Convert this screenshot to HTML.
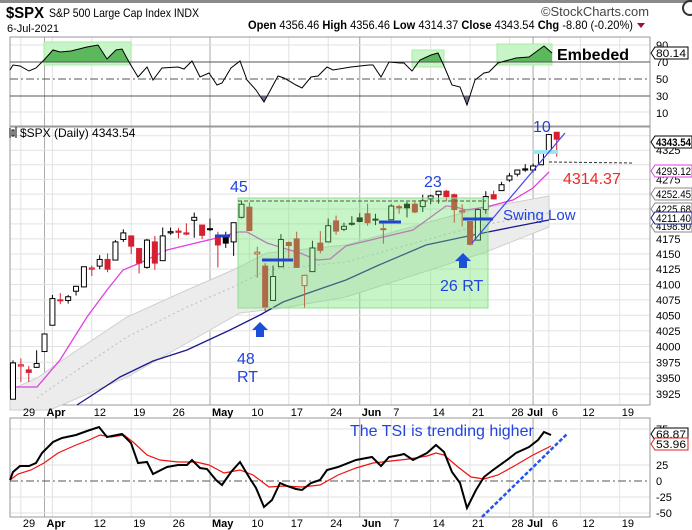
<!DOCTYPE html>
<html><head><meta charset="utf-8"><style>
html,body{margin:0;padding:0;background:#fff;}
svg{display:block;font-family:"Liberation Sans",sans-serif;}
</style></head><body>
<svg id="s" width="692" height="530" viewBox="0 0 692 530" xmlns="http://www.w3.org/2000/svg">
<rect x="0" y="0" width="692" height="530" fill="#fff"/>
<rect x="0" y="0" width="692" height="3" fill="#8a8a8a"/>
<circle cx="690" cy="8" r="7" fill="#fff" stroke="#333" stroke-width="2"/>
<g id="grid"></g>
<g id="rsi"></g>
<g id="main"></g>
<g id="tsi"></g>
<text x="6" y="18" font-size="16" font-weight="bold" textLength="38" lengthAdjust="spacingAndGlyphs">$SPX</text>
<text x="49" y="17" font-size="12" textLength="150" lengthAdjust="spacingAndGlyphs">S&amp;P 500 Large Cap Index  INDX</text>
<text x="7" y="32" font-size="11">6-Jul-2021</text>
<text x="541" y="16" font-size="13" fill="#444" textLength="108" lengthAdjust="spacingAndGlyphs">©StockCharts.com</text>
<text x="248" y="29" font-size="12" textLength="385" lengthAdjust="spacingAndGlyphs"><tspan font-weight="bold">Open</tspan> 4356.46 <tspan font-weight="bold">High</tspan> 4356.46 <tspan font-weight="bold">Low</tspan> 4314.37 <tspan font-weight="bold">Close</tspan> 4343.54 <tspan font-weight="bold">Chg</tspan> -8.80 (-0.20%)</text>
<path d="M637 23 L645 23 L641 28 Z" fill="#a01030"/>
<text x="557" y="60" font-size="16" font-weight="bold">Embeded</text>
<g font-size="11" fill="#000">
<text x="656" y="49">90</text><text x="656" y="66">70</text><text x="656" y="83">50</text><text x="656" y="100">30</text><text x="656" y="117">10</text>
</g>
<path d="M651 53 L655 47 L688 47 L688 59 L655 59 Z" fill="#fff" stroke="#000"/>
<text x="656" y="57" font-size="11" textLength="30" lengthAdjust="spacingAndGlyphs">80.14</text>
<text x="20" y="137" font-size="12">$SPX (Daily) 4343.54</text>
<path d="M10 128 v10 M12 130 h2 v6 h-2z M16 127 v11" stroke="#000" fill="none"/>
<g font-size="11" fill="#000" id="plabels"></g>
<g font-size="11">
<path d="M651 142 L655 136 L692 136 L692 148 L655 148 Z" fill="#fff" stroke="#000"/>
<text x="656" y="146" font-weight="bold" textLength="35" lengthAdjust="spacingAndGlyphs">4343.54</text>
<path d="M651 171 L655 165 L692 165 L692 177 L655 177 Z" fill="#fff" stroke="#e040e0"/>
<text x="656" y="175" textLength="35" lengthAdjust="spacingAndGlyphs">4293.12</text>
<path d="M651 194 L655 188 L692 188 L692 200 L655 200 Z" fill="#fff" stroke="#888"/>
<text x="656" y="198" textLength="35" lengthAdjust="spacingAndGlyphs">4252.45</text>
<path d="M651 226 L655 220 L692 220 L692 232 L655 232 Z" fill="#fff" stroke="#888"/>
<text x="656" y="230" textLength="35" lengthAdjust="spacingAndGlyphs">4198.90</text>
<path d="M651 209 L655 203 L692 203 L692 215 L655 215 Z" fill="#fff" stroke="#888"/>
<text x="656" y="213" textLength="35" lengthAdjust="spacingAndGlyphs">4225.68</text>
<path d="M651 218 L655 212 L692 212 L692 224 L655 224 Z" fill="#fff" stroke="#1a1a8a"/>
<text x="656" y="222" textLength="35" lengthAdjust="spacingAndGlyphs">4211.40</text>
</g>
<g fill="#2244dd" font-size="16">
<text x="230" y="192">45</text>
<text x="237" y="364">48</text>
<text x="237" y="382">RT</text>
<text x="424" y="187">23</text>
<text x="440" y="291">26 RT</text>
<text x="533" y="132">10</text>
<text x="503" y="220" font-size="15">Swing Low</text>
<text x="350" y="436">The TSI is trending higher</text>
</g>
<text x="563" y="184" font-size="16" fill="#ee2a2a">4314.37</text>
<g font-size="11" id="dlabels"></g>
<g font-size="11">
<text x="656" y="433">75</text>
<path d="M651 434 L655 428 L688 428 L688 440 L655 440 Z" fill="#fff" stroke="#000"/>
<text x="656" y="438" textLength="30" lengthAdjust="spacingAndGlyphs">68.87</text>
<path d="M651 444 L655 438 L688 438 L688 450 L655 450 Z" fill="#fff" stroke="#e02020"/>
<text x="656" y="448" textLength="30" lengthAdjust="spacingAndGlyphs">53.96</text>
<text x="656" y="469">25</text><text x="656" y="485">0</text><text x="656" y="501">-25</text><text x="656" y="517">-50</text>
</g>
</svg>
<script>
const NS="http://www.w3.org/2000/svg";
function el(p,t,a){const e=document.createElementNS(NS,t);for(const k in a)e.setAttribute(k,a[k]);document.getElementById(p).appendChild(e);return e;}
const X0=13,DX=7.88,L=10,R=650;
const yP=p=>254-2513*Math.log(p/4150);
const weeks=[1,5,10,15,20,25,30,35,40,44,48,53,58,63,66,68,72,77];
const months=[4,25,44,66];
const panels=[[37,126],[127,405],[418,517]];
panels.forEach(([t,b])=>{
 weeks.forEach(i=>{const x=X0+DX*i;el('grid','line',{x1:x,x2:x,y1:t,y2:b,stroke:'#e2e2e2','stroke-width':1});});
});
months.forEach(i=>{const x=X0+DX*i;panels.forEach(([t,b])=>el('grid','line',{x1:x,x2:x,y1:t,y2:b,stroke:'#aaa'}));});
for(let p=3925;p<=4350;p+=25){const y=yP(p);el('grid','line',{x1:L,x2:R,y1:y,y2:y,stroke:'#e2e2e2'});
 if(p<=4325&&(p<4200||p==4275||p==4325)){const t=el('plabels','text',{x:656,y:y+4});t.textContent=p;}}
[[45,'#e2e2e2'],[112,'#e2e2e2']].forEach(([y,c])=>el('grid','line',{x1:L,x2:R,y1:y,y2:y,stroke:c}));
[429,465,497,513].forEach(y=>el('grid','line',{x1:L,x2:R,y1:y,y2:y,stroke:'#e2e2e2'}));
panels.forEach(([t,b])=>el('grid','rect',{x:L,y:t,width:R-L,height:b-t,fill:'none',stroke:'#999'}));
const dl=[['29',1],['Apr',4,1],['12',10],['19',15],['26',20],['May',25,1],['10',30],['17',35],['24',40],['Jun',44,1],['7',48],['14',53],['21',58],['28',63],['Jul',66,1],['6',68],['12',72],['19',77]];
[416,527].forEach(y=>dl.forEach(([s,i,b])=>{let x=X0+DX*i+2;if(s=='Jul')x-=8;if(s=='6')x+=1;const t=el('dlabels','text',{x:x,y:y,'font-weight':b?'bold':'normal'});t.textContent=s;}));
const rsi=[[10,70],[13,65],[20,66],[29,71],[36,68],[44,60],[53,50],[60,52],[71,51],[87,47],[98,45],[107,59],[116,50],[122,49],[129,62],[138,77],[147,67],[153,80],[162,68],[178,67],[184,69],[192,61],[200,77],[209,73],[217,85],[222,83],[231,68],[240,61],[247,80],[256,90],[264,102],[278,76],[284,78],[296,85],[302,88],[311,77],[318,76],[327,67],[333,70],[351,67],[360,66],[369,65],[373,65],[381,77],[389,62],[400,63],[404,63],[412,71],[420,60],[431,55],[438,53],[444,66],[452,85],[460,87],[467,105],[475,80],[484,73],[489,72],[498,63],[516,58],[529,57],[544,46],[552,53]];
const rp=rsi.map(p=>p.join(',')).join(' ');
[[44,42,87,23],[412,50,32,17],[497,44,55,21]].forEach(([x,y,w,h])=>el('rsi','rect',{x,y,width:w,height:h,fill:'#c8f5c8',stroke:'#a8eaa8'}));
const cp=el('rsi','clipPath',{id:'ca'});const cr=document.createElementNS(NS,'rect');cr.setAttribute('x',0);cr.setAttribute('y',0);cr.setAttribute('width',692);cr.setAttribute('height',62);cp.appendChild(cr);
const cp2=el('rsi','clipPath',{id:'cb'});const cr2=document.createElementNS(NS,'rect');cr2.setAttribute('x',0);cr2.setAttribute('y',96);cr2.setAttribute('width',692);cr2.setAttribute('height',40);cp2.appendChild(cr2);
el('rsi','polygon',{points:'10,62 '+rp+' 552,62',fill:'#5cb85c','clip-path':'url(#ca)'});
el('rsi','polygon',{points:'10,96 '+rp+' 552,96',fill:'#7a6a9a','clip-path':'url(#cb)'});
el('rsi','line',{x1:L,x2:R,y1:62,y2:62,stroke:'#555'});
el('rsi','line',{x1:L,x2:R,y1:96,y2:96,stroke:'#555'});
el('rsi','line',{x1:L,x2:R,y1:79,y2:79,stroke:'#555','stroke-dasharray':'8,3,2,3'});
el('rsi','polyline',{points:rp,fill:'none',stroke:'#000','stroke-width':1});
const up=[[37,378],[67,357],[127,317],[187,290],[233,270],[267,253],[346,245],[473,210],[549,196]];
const lo=[[50,410],[127,377],[187,343],[240,313],[283,308],[346,297],[486,252],[549,227]];
el('main','polygon',{points:up.concat([[549,227]]).concat(lo.slice().reverse()).concat([[10,410],[10,390]]).map(p=>p.join(',')).join(' '),fill:'#ececec',stroke:'#cfcfcf'});
const mid=up.map((p,i)=>[p[0],p[1]+ (i<3?20:17)]);
el('main','polyline',{points:mid.map(p=>p.join(',')).join(' '),fill:'none',stroke:'#bbb','stroke-dasharray':'2,3'});
const pink=[[11,387],[37,387],[60,360],[87,317],[107,290],[123,270],[140,263],[167,250],[200,242],[217,238],[238,232],[247,232],[267,243],[283,248],[300,253],[317,260],[330,259],[346,246],[379,238],[413,230],[446,206],[456,207],[466,210],[486,207],[513,200],[533,188],[549,172]];
const navy=[[77,405],[120,377],[153,361],[187,350],[230,330],[260,315],[283,302],[317,290],[346,280],[379,265],[426,245],[473,235],[513,227],[549,220]];
el('main','polyline',{points:pink.map(p=>p.join(',')).join(' '),fill:'none',stroke:'#e040e0','stroke-width':1.3});
el('main','polyline',{points:navy.map(p=>p.join(',')).join(' '),fill:'none',stroke:'#1a1a8a','stroke-width':1.3});
const d=[[3917,3978,3917,3974],[3969,3981,3944,3971],[3963,3969,3944,3959],[3967,3994,3966,3973],[3992,4018,3992,4020],[4034,4083,4034,4077],[4075,4086,4068,4074],[4074,4083,4069,4080],[4089,4098,4082,4097],[4096,4129,4095,4129],[4125,4131,4114,4127],[4130,4148,4125,4141],[4141,4151,4120,4125],[4140,4173,4140,4170],[4174,4191,4170,4185],[4180,4180,4150,4163],[4159,4160,4118,4135],[4128,4175,4126,4173],[4170,4180,4124,4135],[4139,4194,4139,4180],[4185,4194,4182,4187],[4188,4193,4176,4186],[4185,4201,4181,4183],[4206,4219,4177,4211],[4198,4198,4175,4181],[4191,4209,4188,4192],[4180,4187,4128,4165],[4177,4187,4160,4168],[4170,4202,4147,4202],[4211,4238,4209,4233],[4228,4236,4188,4189],[4150,4162,4111,4153],[4130,4135,4057,4063],[4074,4131,4074,4113],[4129,4183,4129,4174],[4169,4171,4143,4164],[4175,4187,4127,4128],[4098,4116,4061,4115],[4121,4172,4121,4160],[4168,4188,4151,4156],[4170,4209,4170,4197],[4205,4214,4182,4188],[4191,4202,4188,4196],[4201,4213,4197,4200],[4210,4218,4203,4204],[4217,4234,4197,4202],[4207,4217,4198,4208],[4191,4204,4167,4192],[4207,4233,4207,4230],[4229,4232,4217,4227],[4233,4237,4211,4227],[4233,4237,4218,4220],[4229,4249,4220,4239],[4242,4249,4233,4247],[4249,4255,4234,4255],[4255,4257,4238,4246],[4249,4251,4202,4224],[4220,4233,4196,4222],[4204,4204,4164,4166],[4173,4226,4173,4224],[4224,4255,4217,4246],[4249,4256,4241,4242],[4256,4271,4256,4266],[4274,4286,4271,4281],[4284,4292,4280,4291],[4293,4301,4288,4291],[4291,4302,4287,4298],[4300,4320,4300,4320],[4322,4353,4322,4352],[4356,4356,4314,4344]];
d.forEach((c,i)=>{const [o,h,l,cl]=c;const x=X0+DX*i;const pc=i?d[i-1][3]:3909;const col=cl<pc?'#d42030':'#000';
 el('main','line',{x1:x,x2:x,y1:yP(h),y2:yP(l),stroke:col});
 const t=Math.min(yP(o),yP(cl)),b=Math.max(yP(o),yP(cl));
 el('main','rect',{x:x-2.5,y:t,width:5,height:Math.max(1,b-t),fill:cl<o?col:'#fff',stroke:col});});
el('main','rect',{x:238,y:198,width:250,height:110,fill:'rgba(110,230,110,0.38)',stroke:'#8ee08e'});
el('main','line',{x1:238,x2:486,y1:201,y2:201,stroke:'#555','stroke-dasharray':'4,2'});
el('main','rect',{x:533,y:150,width:25,height:4,fill:'#9ee6ee'});
el('main','line',{x1:472,y1:243,x2:565,y2:133,stroke:'#4444ee','stroke-width':1.2});
el('main','line',{x1:549,y1:162,x2:634,y2:163,stroke:'#333','stroke-dasharray':'3,2'});
[[215,230,236],[262,293,260],[463,493,219],[379,401,222]].forEach(([a,b,y])=>el('main','line',{x1:a,x2:b,y1:y,y2:y,stroke:'#2244cc','stroke-width':3}));
[[260,322],[463,253]].forEach(([x,y])=>el('main','path',{d:`M${x} ${y} L${x+8} ${y+8} L${x+4} ${y+8} L${x+4} ${y+15} L${x-4} ${y+15} L${x-4} ${y+8} L${x-8} ${y+8} Z`,fill:'#1a50d8'}));
el('tsi','line',{x1:L,x2:R,y1:481,y2:481,stroke:'#555','stroke-dasharray':'8,3,2,3'});
const red=[[10,480],[18,474],[31,470],[44,463],[58,453],[76,445],[89,440],[100,435],[111,437],[124,435],[133,442],[147,455],[160,460],[178,462],[196,462],[209,465],[224,473],[240,470],[253,475],[269,487],[284,486],[302,487],[320,485],[338,475],[356,468],[373,463],[391,461],[409,459],[427,456],[436,453],[444,455],[458,467],[471,477],[484,479],[498,475],[516,465],[533,455],[551,446]];
const blk=[[10,480],[13,472],[20,466],[29,466],[36,463],[42,453],[53,442],[62,438],[76,435],[87,431],[99,427],[107,437],[122,434],[131,443],[138,463],[147,462],[153,474],[167,467],[178,465],[187,465],[192,460],[200,468],[207,469],[216,480],[222,485],[231,472],[240,462],[249,477],[256,488],[264,507],[272,500],[280,483],[287,486],[296,489],[302,490],[311,483],[320,480],[327,470],[338,467],[356,460],[372,457],[381,466],[389,457],[400,455],[404,454],[413,460],[427,453],[436,445],[444,452],[452,472],[460,483],[467,508],[476,490],[484,477],[493,470],[507,460],[516,453],[529,447],[538,440],[544,432],[551,435]];
el('tsi','polyline',{points:red.map(p=>p.join(',')).join(' '),fill:'none',stroke:'#ee1111','stroke-width':1.2});
el('tsi','polyline',{points:blk.map(p=>p.join(',')).join(' '),fill:'none',stroke:'#000','stroke-width':2});
el('tsi','line',{x1:482,y1:517,x2:567,y2:434,stroke:'#2255ee','stroke-width':2.5,'stroke-dasharray':'4,2'});
</script>
</body></html>
